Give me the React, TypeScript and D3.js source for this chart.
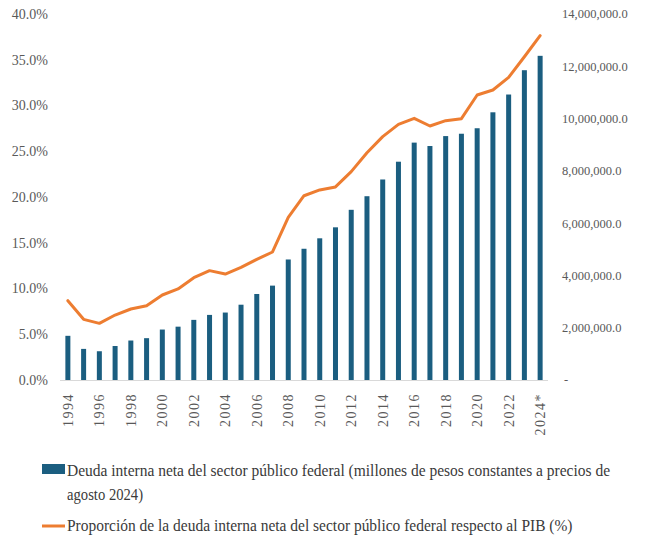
import React, { useLayoutEffect, useRef, useState } from "react";
import * as d3 from "d3";

const years = ["1994","1995","1996","1997","1998","1999","2000","2001","2002","2003","2004","2005","2006","2007","2008","2009","2010","2011","2012","2013","2014","2015","2016","2017","2018","2019","2020","2021","2022","2023","2024*"];
const debt = [1690000,1190000,1100000,1300000,1510000,1600000,1930000,2040000,2300000,2490000,2580000,2880000,3290000,3610000,4610000,5020000,5420000,5840000,6510000,7030000,7670000,8350000,9080000,8950000,9330000,9420000,9630000,10240000,10920000,11850000,12400000];
const ratio = [8.67,6.63,6.19,7.10,7.76,8.12,9.29,9.95,11.18,11.95,11.58,12.31,13.19,13.99,17.78,20.14,20.77,21.1,22.77,24.84,26.6,27.94,28.6,27.76,28.34,28.56,31.15,31.69,33.08,35.33,37.63];
const leftTicks = [0,5,10,15,20,25,30,35,40];
const rightTicks = [0,2000000,4000000,6000000,8000000,10000000,12000000,14000000];
const legendTexts = [
  "Deuda interna neta del sector público federal (millones de pesos constantes a precios de",
  "agosto 2024)",
  "Proporción de la deuda interna neta del sector público federal respecto al PIB (%)",
];
const legendWidths = [543, 76, 505];
const legendYs = [476, 500, 531];

const BLUE = "#1B5E80";
const ORANGE = "#ED7D31";
const GRAY = "#595959";
const FONT = "'Liberation Serif', 'DejaVu Serif', serif";

export default function App() {
  const refs = useRef<(SVGTextElement | null)[]>([]);
  const [scales, setScales] = useState<number[]>([0.8, 0.8, 0.8]);

  useLayoutEffect(() => {
    const s = refs.current.map((el, i) => {
      if (!el) return 0.8;
      const w = el.getComputedTextLength();
      return w > 0 ? legendWidths[i] / w : 0.8;
    });
    setScales(s);
  }, []);

  const x = d3.scaleBand<string>().domain(years).range([60, 548]).padding(0);
  const yL = d3.scaleLinear().domain([0, 40]).range([380, 14]);
  const yR = d3.scaleLinear().domain([0, 14000000]).range([380, 14]);
  const cx = (i: number) => (x(years[i]) as number) + x.bandwidth() / 2;
  const line = d3.line<number>().x((_, i) => cx(i)).y((d) => yL(d));
  const fmtR = (v: number) => (v === 0 ? "-" : d3.format(",.1f")(v));
  const barW = 5;

  return (
    <svg width={647} height={540} style={{ position: "absolute", left: 0, top: 0, background: "#fff" }} fontFamily={FONT}>
      {leftTicks.map((t) => (
        <text key={"l" + t} x={48} y={yL(t)} dy="0.35em" textAnchor="end" fontSize={14} fill={GRAY}>
          {t.toFixed(1) + "%"}
        </text>
      ))}
      {rightTicks.map((t) => (
        <text key={"r" + t} x={t === 0 ? 564 : 562} y={yR(t)} dy="0.35em" textAnchor="start" fontSize={12.5} fill={GRAY}>
          {fmtR(t)}
        </text>
      ))}
      {debt.map((v, i) => (
        <rect key={"b" + i} x={cx(i) - barW / 2} y={yR(v)} width={barW} height={380 - yR(v)} fill={BLUE} />
      ))}
      <line x1={60} x2={548} y1={380.5} y2={380.5} stroke="#D9D9D9" strokeWidth={1} />
      <path d={line(ratio) || ""} fill="none" stroke={ORANGE} strokeWidth={3} strokeLinejoin="round" strokeLinecap="round" />
      {years.map((yr, i) =>
        i % 2 === 0 ? (
          <text key={"x" + yr} transform={`translate(${cx(i) + 5},${393}) rotate(-90)`} textAnchor="end" fontSize={14} letterSpacing={1.5} fill={GRAY}>
            {yr}
          </text>
        ) : null
      )}
      <rect x={42} y={464} width={23} height={10} fill={BLUE} />
      <line x1={42} x2={65} y1={526} y2={526} stroke={ORANGE} strokeWidth={3} />
      {legendTexts.map((t, i) => (
        <text
          key={"lg" + i}
          ref={(el) => { refs.current[i] = el; }}
          transform={`translate(67,${legendYs[i]}) scale(${scales[i]},1)`}
          fontSize={17}
          fill="#3A3A3A"
        >
          {t}
        </text>
      ))}
    </svg>
  );
}
